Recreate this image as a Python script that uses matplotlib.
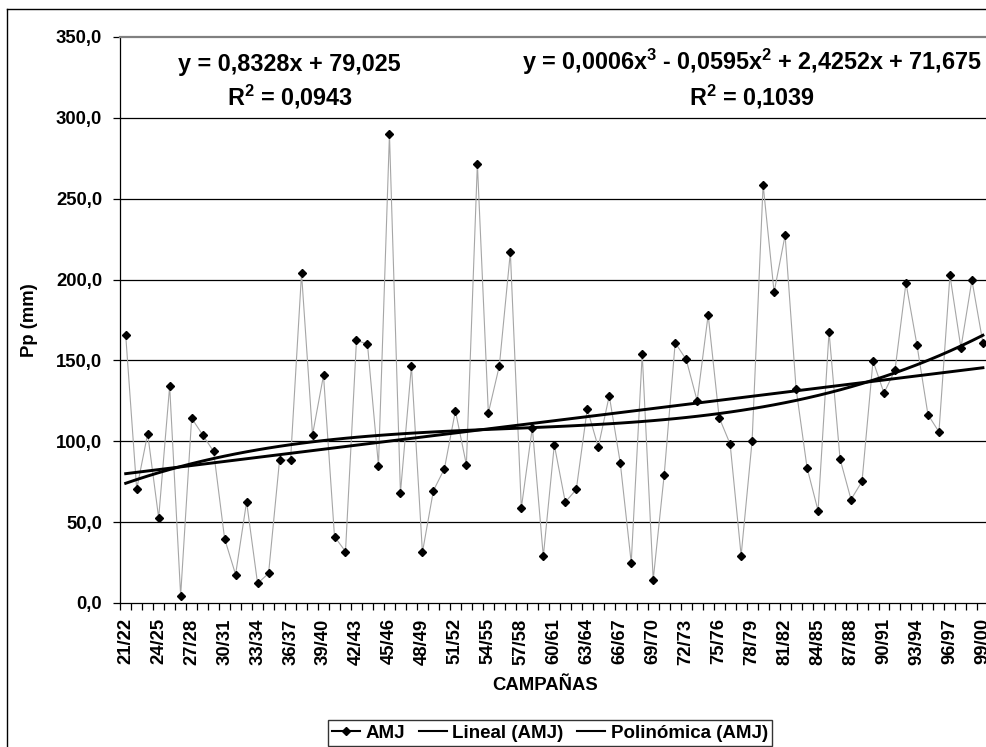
import numpy as np
import matplotlib
matplotlib.use("Agg")
import matplotlib.pyplot as plt
from matplotlib.lines import Line2D
from matplotlib.ticker import FixedLocator, FuncFormatter

plt.rcParams['font.family'] = ['Liberation Sans', 'DejaVu Sans']
plt.rcParams['mathtext.fontset'] = 'custom'
plt.rcParams['mathtext.rm'] = 'Liberation Sans:bold'
plt.rcParams['mathtext.it'] = 'Liberation Sans:bold'
plt.rcParams['mathtext.bf'] = 'Liberation Sans:bold'

campaigns = ["21/22", "22/23", "23/24", "24/25", "25/26", "26/27", "27/28", "28/29", "29/30", "30/31",
             "31/32", "32/33", "33/34", "34/35", "35/36", "36/37", "37/38", "38/39", "39/40", "40/41",
             "41/42", "42/43", "43/44", "44/45", "45/46", "46/47", "47/48", "48/49", "49/50", "50/51",
             "51/52", "52/53", "53/54", "54/55", "55/56", "56/57", "57/58", "58/59", "59/60", "60/61",
             "61/62", "62/63", "63/64", "64/65", "65/66", "66/67", "67/68", "68/69", "69/70", "70/71",
             "71/72", "72/73", "73/74", "74/75", "75/76", "76/77", "77/78", "78/79", "79/80", "80/81",
             "81/82", "82/83", "83/84", "84/85", "85/86", "86/87", "87/88", "88/89", "89/90", "90/91",
             "91/92", "92/93", "93/94", "94/95", "95/96", "96/97", "97/98", "98/99", "99/00"]

amj = [165.7, 70.4, 104.7, 52.6, 134.1, 4.6, 114.3, 104.0, 93.7, 39.8,
       17.6, 62.6, 12.1, 18.3, 88.4, 88.4, 203.8, 104.0, 140.8, 41.1,
       31.8, 162.5, 160.0, 85.0, 289.8, 68.1, 146.7, 31.3, 69.5, 83.0,
       118.8, 85.5, 271.7, 117.5, 146.7, 216.9, 58.7, 108.5, 28.8, 97.8,
       62.4, 70.2, 120.0, 96.4, 128.2, 86.8, 24.9, 154.0, 14.4, 79.3,
       160.9, 150.6, 125.0, 178.2, 114.7, 98.3, 29.3, 100.3, 258.7, 192.2,
       227.4, 132.5, 83.6, 57.1, 167.7, 89.1, 64.0, 75.2, 149.7, 129.8,
       144.0, 197.9, 159.5, 116.5, 105.8, 202.7, 157.7, 199.7, 160.9]

eq_lin = ["y = 0,8328x + 79,025", "R$^{2}$ = 0,0943"]
eq_pol = ["y = 0,0006x$^{3}$ - 0,0595x$^{2}$ + 2,4252x + 71,675", "R$^{2}$ = 0,1039"]
y_ticks = [0, 50, 100, 150, 200, 250, 300, 350]

W, H = 987, 747
fig = plt.figure(figsize=(W / 100, H / 100), dpi=100)

def fx(px):
    return px / W

def fy(py):
    return 1 - py / H

left_px, right_px, top_px, bot_px = 120.2, 988.4, 37, 603
ax = fig.add_axes([fx(left_px), fy(bot_px), fx(right_px - left_px), (bot_px - top_px) / H])

n = len(amj)
xi = np.arange(n)
xs = xi + 1  # Excel trendline x = 1..n
y = np.array(amj)

lin = np.polyval(np.polyfit(xs, y, 1), xs)
pol = np.polyval(np.polyfit(xs, y, 3), xs)

ax.plot(xi, y, color='#a6a6a6', lw=0.8, marker='D', markersize=3.6,
        markerfacecolor='black', markeredgecolor='black', label='AMJ', zorder=3)
ax.plot(xi, lin, color='black', lw=2.1, label='Lineal (AMJ)', zorder=4)
ax.plot(xi, pol, color='black', lw=2.1, label='Polinómica (AMJ)', zorder=4)

ax.set_xlim(-0.5, n - 0.5)
ax.set_ylim(0, 350)

for v in y_ticks[1:-1]:
    ax.axhline(v, color='black', lw=0.9, zorder=1)

ax.spines['bottom'].set_visible(False)
ax.spines['right'].set_visible(False)
ax.spines['top'].set_color('#808080')
ax.spines['top'].set_linewidth(1.6)
ax.spines['left'].set_color('black')
ax.spines['left'].set_linewidth(0.9)
ax.axhline(0, color='black', lw=0.9, zorder=5, clip_on=False)

ax.yaxis.set_major_locator(FixedLocator(y_ticks))
ax.yaxis.set_major_formatter(FuncFormatter(lambda v, p: f"{v:.1f}".replace('.', ',')))
ax.tick_params(axis='y', direction='out', length=5, width=0.9, pad=8,
               labelsize=13.3, colors='black')
for lab in ax.get_yticklabels():
    lab.set_fontweight('bold')

ax.set_xticks(xi[::3])
ax.set_xticklabels(campaigns[::3], rotation=90, fontsize=13.3, fontweight='bold')
ax.set_xticks(np.arange(n + 1) - 0.5, minor=True)
ax.tick_params(axis='x', which='major', length=0, pad=11)
ax.tick_params(axis='x', which='minor', direction='out', length=5, width=0.9)

fig.text(fx(30), fy(320), "Pp (mm)", rotation=90, ha='center', va='center',
         fontsize=13.3, fontweight='bold')
fig.text(fx(545), fy(685), "CAMPAÑAS", ha='center', va='center',
         fontsize=13.3, fontweight='bold')

fig.text(fx(289), fy(64), eq_lin[0], ha='center', va='center', fontsize=16.8, fontweight='bold')
fig.text(fx(290), fy(97), eq_lin[1], ha='center', va='center', fontsize=16.8, fontweight='bold')
fig.text(fx(752), fy(62), eq_pol[0], ha='center', va='center', fontsize=16.8, fontweight='bold')
fig.text(fx(752), fy(97), eq_pol[1], ha='center', va='center', fontsize=16.8, fontweight='bold')

leg = fig.legend(loc='center', bbox_to_anchor=(fx(550), fy(733)), ncol=3,
                 prop={'weight': 'bold', 'size': 13.5}, frameon=True, fancybox=False,
                 edgecolor='black', handlelength=1.5, handletextpad=0.3,
                 columnspacing=0.7, borderpad=0.25, borderaxespad=0)
leg.get_frame().set_linewidth(1.0)
for h in leg.legend_handles:
    h.set_linewidth(1.5)
    h.set_color('black')

# chart area border
fig.add_artist(Line2D([fx(7), fx(7)], [0, fy(9)], color='black', lw=1.0))
fig.add_artist(Line2D([fx(7), 1], [fy(9), fy(9)], color='black', lw=1.0))

fig.savefig("out.png", dpi=100)
